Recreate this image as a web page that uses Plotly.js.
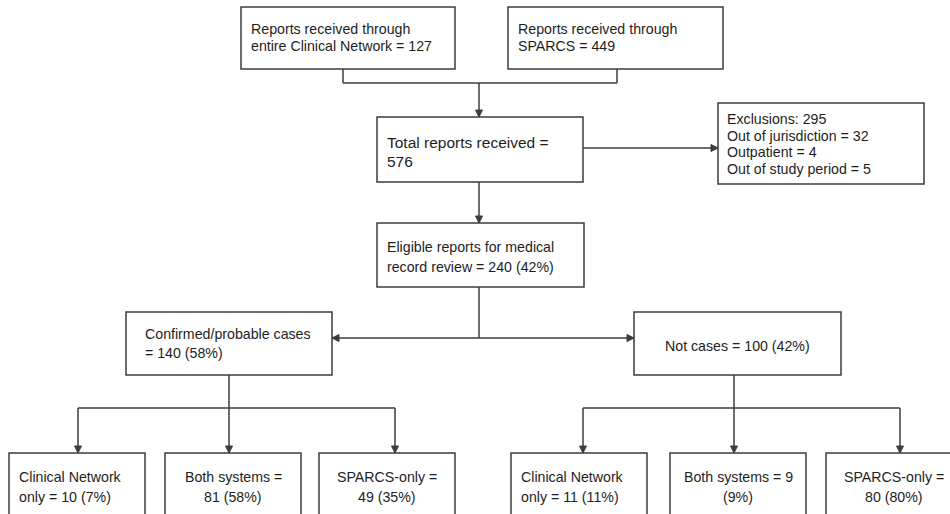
<!DOCTYPE html>
<html>
<head>
<meta charset="utf-8">
<script src="https://cdn.plot.ly/plotly-3.0.1.min.js"></script>
<style>html,body{margin:0;padding:0;background:#fff;}#chart{width:950px;height:514px;}</style>
</head>
<body>
<div id="chart"></div>
<script>
// ---- data ----
const sourceLabels = ['entire Clinical Network', 'SPARCS'];
const sourceCounts = [127, 449];
const totalReports = 576;
const exclusionsTotal = 295;
const exclusionLabels = ['Out of jurisdiction', 'Outpatient', 'Out of study period'];
const exclusionCounts = [32, 4, 5];
const eligibleCount = 240;
const eligiblePct = 42;
const outcomeLabels = ['Confirmed/probable cases', 'Not cases'];
const outcomeCounts = [140, 100];
const outcomePct = [58, 42];
const systemLabels = ['Clinical Network only', 'Both systems', 'SPARCS-only'];
const caseCounts = [10, 81, 49];
const casePct = [7, 58, 35];
const notCaseCounts = [11, 9, 80];
const notCasePct = [11, 9, 80];

// ---- layout helpers ----
const LC = '#3c3c3c', LW = 1.5, FS = 14.2;
const shapes = [], annotations = [];
function box(x0, y0, x1, y1) {
  shapes.push({type: 'rect', xref: 'x', yref: 'y', x0, y0, x1, y1,
    line: {color: LC, width: LW}, fillcolor: '#ffffff', layer: 'above'});
}
function seg(x0, y0, x1, y1) {
  shapes.push({type: 'line', xref: 'x', yref: 'y', x0, y0, x1, y1,
    line: {color: LC, width: LW}, layer: 'above'});
}
function head(x, y, dir) {
  const L = 7, W = 3.5;
  let p;
  if (dir === 'down') p = `M${x},${y} L${x - W},${y - L} L${x + W},${y - L} Z`;
  else if (dir === 'right') p = `M${x},${y} L${x - L},${y - W} L${x - L},${y + W} Z`;
  else p = `M${x},${y} L${x + L},${y - W} L${x + L},${y + W} Z`;
  shapes.push({type: 'path', xref: 'x', yref: 'y', path: p,
    line: {color: LC, width: 1}, fillcolor: LC, layer: 'above'});
}
// one annotation per text line, placed at its own line centre
function lines(x, ys, arr, anchor, size) {
  arr.forEach((t, i) => {
    annotations.push({xref: 'x', yref: 'y', x, y: ys[i], text: t, showarrow: false,
      xanchor: anchor || 'left', yanchor: 'middle', align: anchor === 'center' ? 'center' : 'left',
      borderpad: 0, borderwidth: 0,
      font: {family: 'Liberation Sans, Arial, sans-serif', size: size || FS, color: '#1e1e1e'}});
  });
}

// top sources
box(241, 7, 455, 69);
box(508, 7, 723, 69);
lines(251, [29, 46], ['Reports received through', `${sourceLabels[0]} = ${sourceCounts[0]}`]);
lines(518, [29, 46], ['Reports received through', `${sourceLabels[1]} = ${sourceCounts[1]}`]);
seg(343, 69, 343, 83); seg(617, 69, 617, 83); seg(343, 83, 617, 83);
seg(479, 83, 479, 117); head(479, 117, 'down');

// total
box(377, 117, 583, 182);
lines(387, [142, 161], ['Total reports received =', `${totalReports}`], 'left', 15.5);
seg(583, 148, 718, 148); head(718, 148, 'right');

// exclusions
box(718, 103, 924, 184);
lines(727, [119, 135.5, 152, 168.5],
  [`Exclusions: ${exclusionsTotal}`].concat(exclusionLabels.map((l, i) => `${l} = ${exclusionCounts[i]}`)));

// eligible
seg(479, 182, 479, 223); head(479, 223, 'down');
box(377, 223, 584, 287);
lines(387, [247, 267], ['Eligible reports for medical', `record review = ${eligibleCount} (${eligiblePct}%)`]);
seg(479, 287, 479, 338); seg(332, 338, 634, 338);
head(332, 338, 'left'); head(634, 338, 'right');

// outcomes
box(126, 312, 332, 375);
lines(145, [334, 353], [outcomeLabels[0], `= ${outcomeCounts[0]} (${outcomePct[0]}%)`]);
box(634, 312, 841, 375);
lines(737.5, [346], [`${outcomeLabels[1]} = ${outcomeCounts[1]} (${outcomePct[1]}%)`], 'center');

// case branches
seg(229, 375, 229, 408); seg(78, 408, 395, 408);
[78, 229, 395].forEach(x => { seg(x, 408, x, 453); head(x, 453, 'down'); });
seg(734, 375, 734, 408); seg(583, 408, 900, 408);
[583, 734, 900].forEach(x => { seg(x, 408, x, 453); head(x, 453, 'down'); });

// bottom boxes
const cnHead = systemLabels[0].replace(' only', '');
const BY = [477, 497];
box(9, 453, 145, 540);
lines(19, BY, [cnHead, `only = ${caseCounts[0]} (${casePct[0]}%)`]);
box(165, 453, 301, 540);
lines(233, BY, [`${systemLabels[1]} =`, `${caseCounts[1]} (${casePct[1]}%)`], 'center');
box(319, 453, 455, 540);
lines(387, BY, [`${systemLabels[2]} =`, `${caseCounts[2]} (${casePct[2]}%)`], 'center');

box(511, 453, 647, 540);
lines(521, BY, [cnHead, `only = ${notCaseCounts[0]} (${notCasePct[0]}%)`]);
box(670, 453, 806, 540);
lines(738, BY, [`${systemLabels[1]} = ${notCaseCounts[1]}`, `(${notCasePct[1]}%)`], 'center');
box(826, 453, 962, 540);
lines(894, BY, [`${systemLabels[2]} =`, `${notCaseCounts[2]} (${notCasePct[2]}%)`], 'center');

const layout = {
  width: 950, height: 514,
  margin: {l: 0, r: 0, t: 0, b: 0},
  paper_bgcolor: '#ffffff', plot_bgcolor: '#ffffff',
  xaxis: {range: [0, 950], visible: false, fixedrange: true},
  yaxis: {range: [514, 0], visible: false, fixedrange: true},
  showlegend: false,
  shapes, annotations
};
Plotly.newPlot('chart', [{x: [], y: [], type: 'scatter'}], layout, {staticPlot: true, displayModeBar: false});
</script>
</body>
</html>
